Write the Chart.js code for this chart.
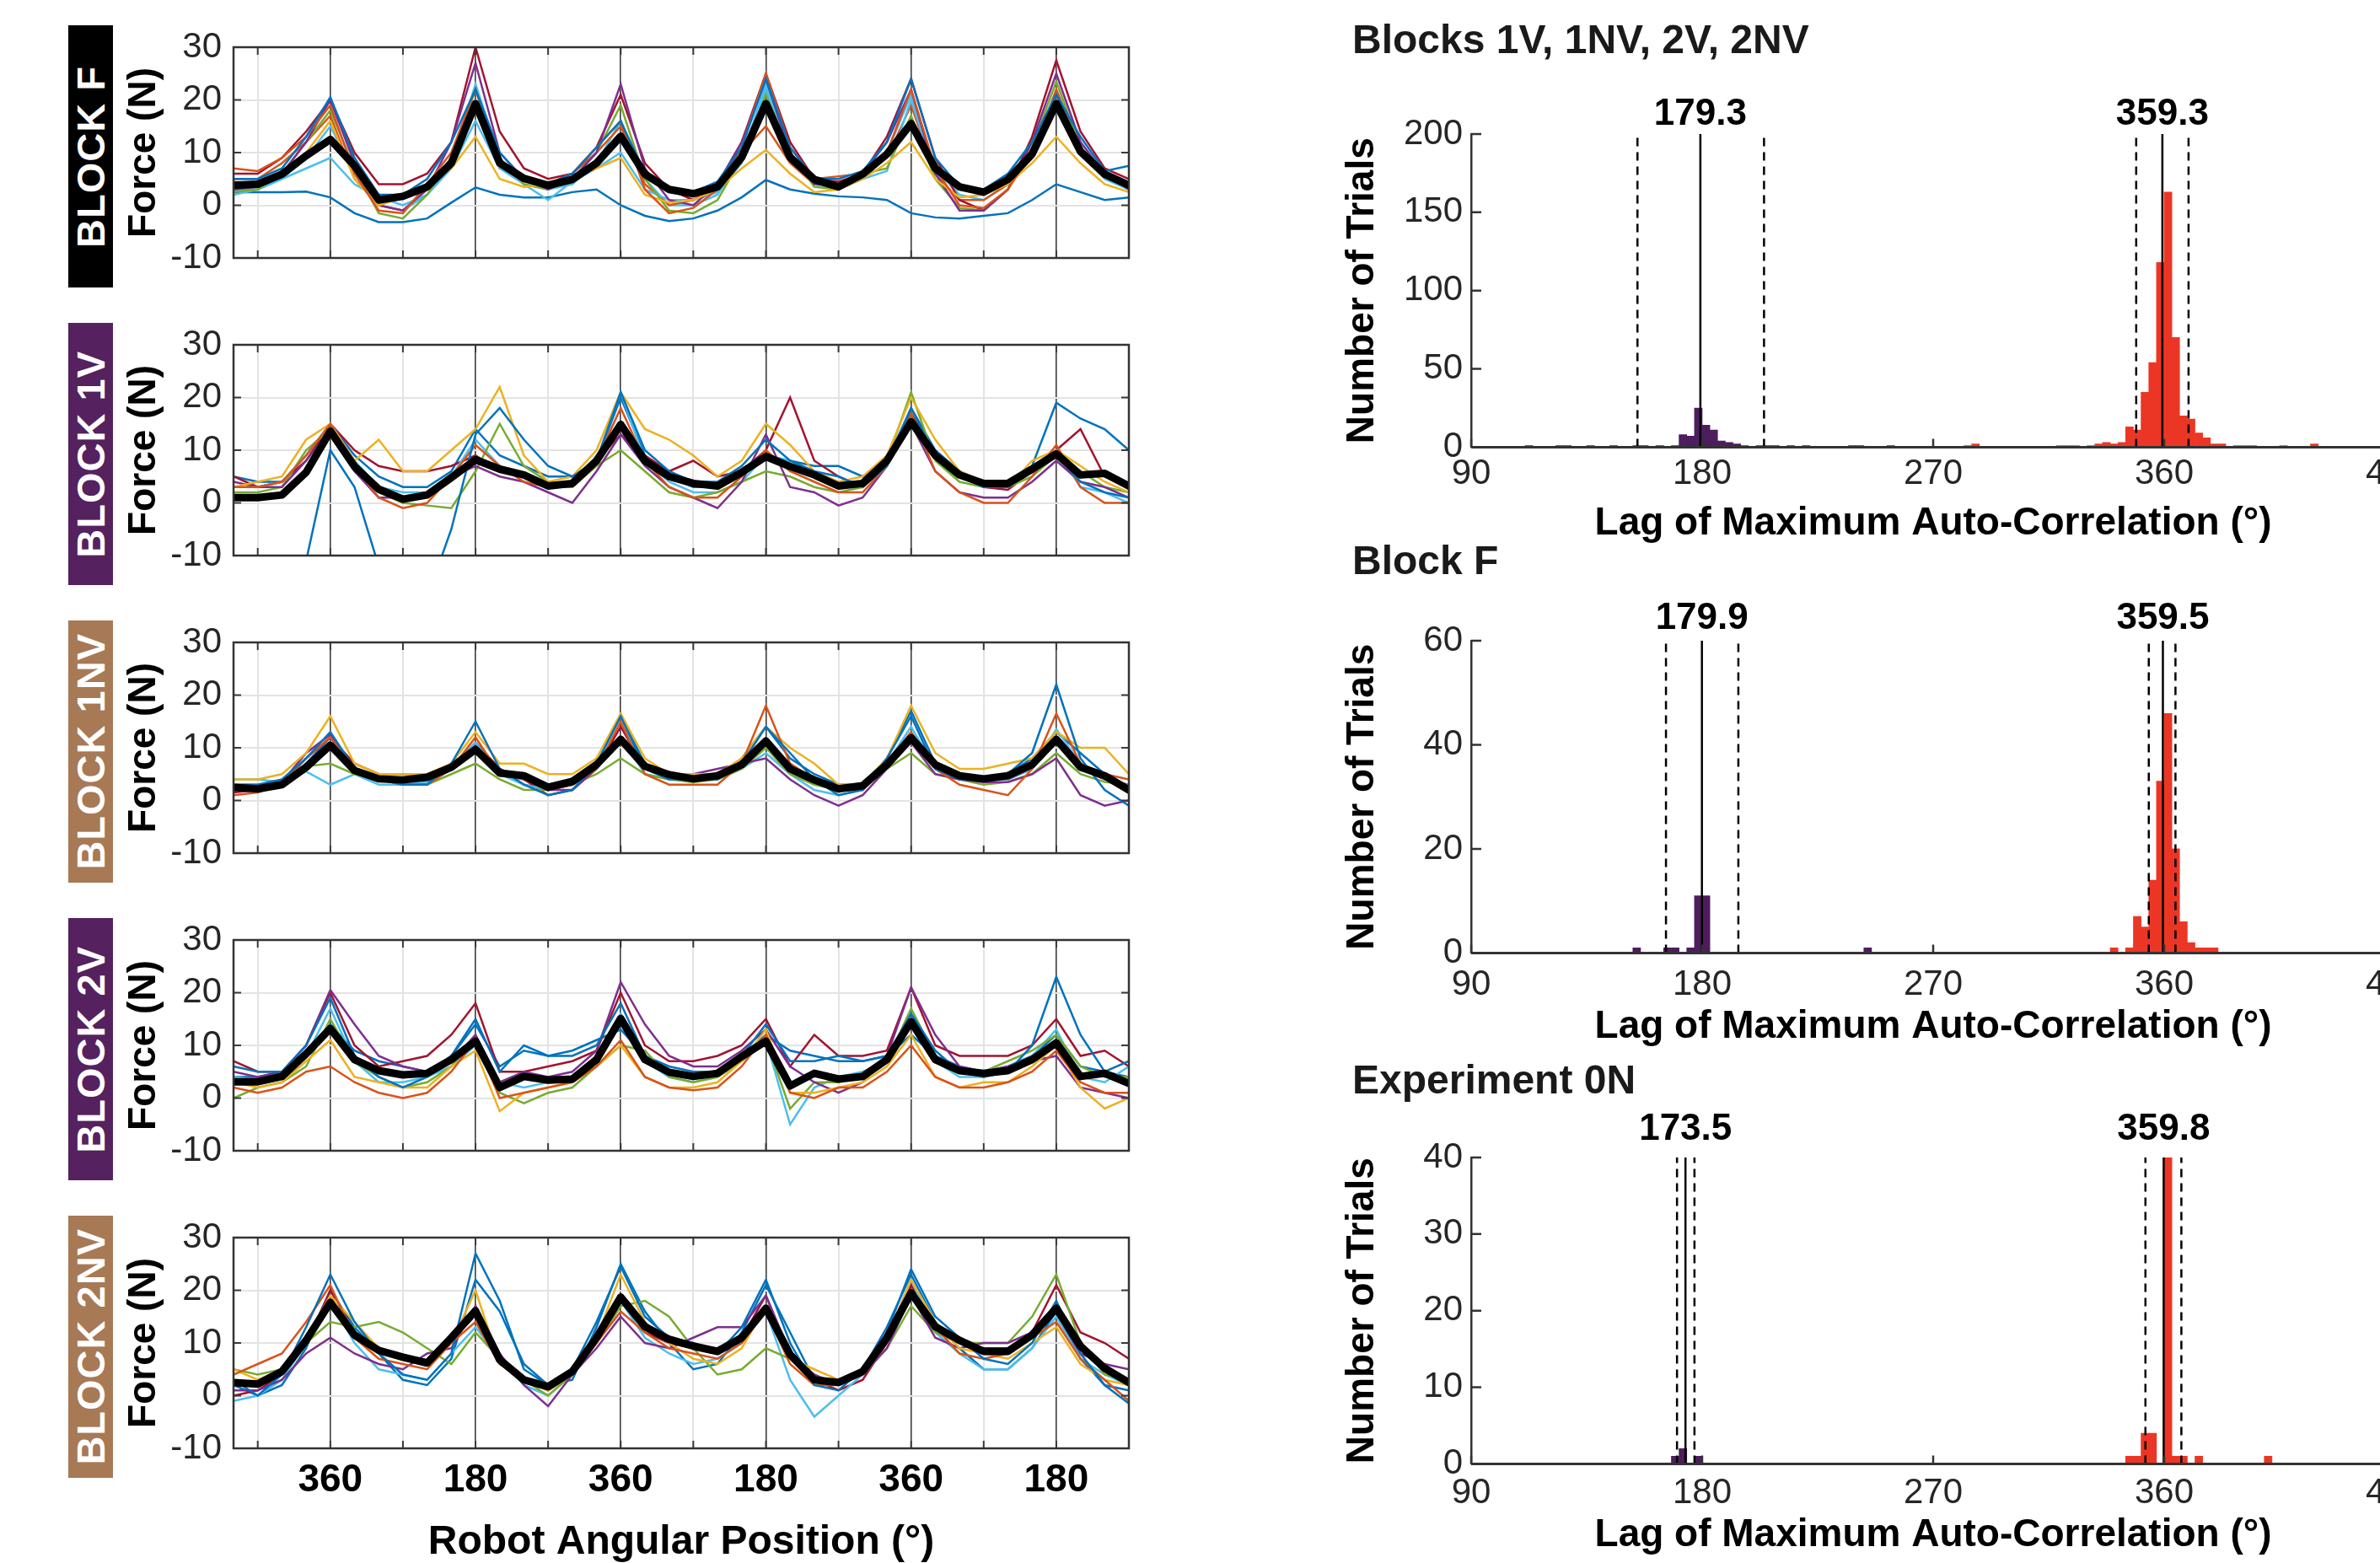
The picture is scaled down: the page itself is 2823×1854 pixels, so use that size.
<!DOCTYPE html>
<html><head><meta charset="utf-8">
<script src="https://cdn.jsdelivr.net/npm/chart.js"></script>
<style>
html,body{margin:0;padding:0;width:2823px;height:1854px;overflow:hidden;background:#fff;}
.blk{position:absolute;left:81px;width:53px;height:311px;display:flex;align-items:center;justify-content:center;}
.blk span{writing-mode:vertical-rl;transform:rotate(180deg);color:#fff;font:bold 47px 'Liberation Sans',Arial,sans-serif;white-space:nowrap;letter-spacing:1px;}
</style></head><body>
<script>
// ---------------- DATA ----------------
const angles = [60,90,120,150,180,210,240,270,300,330,360,390,420,450,480,510,540,570,600,630,660,690,720,750,780,810,840,870,900,930,960,990,1020,1050,1080,1110,1140,1170];
const xTickPositions = [90,180,270,360,450,540,630,720,810,900,990,1080,1170];
const xTickLabels = ['','360','','180','','360','','180','','360','','180',''];
const yTickStep = 10;

const blockLabels = ['BLOCK F','BLOCK 1V','BLOCK 1NV','BLOCK 2V','BLOCK 2NV'];

// Block F
const meanF = [3.8,4.0,5.9,9.4,12.5,7.5,1.0,1.7,3.5,8.0,19.3,8.0,5.1,3.8,4.9,8.0,13.1,5.9,3.0,2.2,3.5,9.1,19.3,9.1,4.9,3.5,5.9,9.7,15.5,7.0,3.5,2.5,4.9,9.7,19.3,10.2,5.9,3.8];
const F_blue    = [5,5,7,13,20.5,9,2,2,5,12,22,10,5,4,6,11,16,6,3,2.5,4.5,11,24,11,5,5,6.5,12,24,9,3.5,3,6,12,21,13,6.5,7.5];
const F_orange  = [7,6.5,9,13,19,6,-1,-1.5,4,10,22,8,5.5,4,6,11,16,3,-1.5,-0.5,3,11,25,11,5,5.5,6,10,22,7,0,-0.5,3,10,21,11,6,4];
const F_yellow  = [4.5,4,6.5,10,16,5,0,1.5,3.5,7,13,5,3.5,4,5,7,9,2,0.5,1,3,7,10.5,6,2.5,3,5,8,12,5,1.5,2,4,8,13,8,4,2.5];
const F_purple  = [3,3.5,6,12,20,8,0,-1,3,12,27,10,5,3,5,10,23,7,1,0,4,12,24,10,4,4,6,12,22,6,-1,-1,3,12,25,12,6,3];
const F_green   = [2.5,3,6,12,18,7,-1.5,-2.5,2,9,22,9,4,3,5,10,19,5,-1,-1.5,1,9,21,10,3.5,3,6,7,17,5,-0.5,-1,3,11,23.5,11,6,4];
const F_cyan    = [2,3,5,7,9,4,1.5,0,2,7,16,7,4,1,4.5,7,10,3,1,1,2.5,8,22,9,4,3.5,5,6.5,20,6,3,2,5,10,18,12,6,4];
const F_red     = [6,6,9,14,20,10,4,4,6,12,30,14,7,5,6,11,21,8,3,1,4,12,25,12,5,4.5,6,13,24,9,1,-1,3,13,27.5,14,7,5];
const F_blue2   = [2.5,2.5,2.5,2.6,1.5,-1.5,-3.2,-3.2,-2.5,0.5,3.4,2.0,1.5,1.5,2.5,3.0,0,-2.0,-3.0,-2.5,-1.0,1.5,4.8,3.0,2.2,1.7,1.5,1.0,-1.5,-2.3,-2.5,-2.0,-1.5,1.0,4.0,2.5,1.0,1.5];
const F_orange2 = [5,5,8,12,17,5,0,-1,3,9,19,7,5,4,6,10,15,4,0,1,3,10,15,8,4,4,6,9,19,6,1,1,4,9,22,10,6,4];
const F_cyan2   = [3,3,5,9,15,6,0,-1,2,8,23,9,4,3,4,8,16,5,0,0,2,9,23,9,4,3,5,10,21,7,2,1,4,10,22,11,5,3];

// Block 1V
const mean1V = [1.0,1.0,1.5,5.8,13.6,6.9,2.6,0.7,1.5,4.8,8.2,6.4,5.3,3.2,3.7,8.0,14.9,8.0,5.0,3.7,3.2,5.8,8.8,6.9,5.3,3.2,3.7,8.0,15.4,9.0,5.3,3.7,3.7,6.4,9.3,5.3,5.6,3.2];
const V1_blue   = [-15,-12,-13,-11,10,3,-12,-20,-18,-5,13,18,12,7,5,8,21,10,6,4,4,7,12,8,6,5,3,7,18,9,5,3,3,6,9,4,2,1];
const V1_orange = [3,3,4,9,15,7,1,-1,0,5,11,7,4,3,3,8,18,8,3,1,1,5,10,6,4,2,2,7,17,6,2,0,0,5,11,3,0,0];
const V1_yellow = [3,4,5,12,15,8,12,6,6,10,14,22,9,4,5,10,21,14,12,9,5,8,15,11,6,4,5,9,20,12,6,4,3,8,10,7,4,2];
const V1_purple = [4,3,3,8,14,6,1,1,2,5,7,5,4,2,0,6,13,7,3,1,-1,4,13,3,2,-0.5,1,7,15,6,2,1,1,4,8,4,3,1];
const V1_green  = [2,2,3,10,14,6,2,0,-0.5,-1,6,15,7,4,3,7,10,6,2,1,2,4,6,5,3,2,3,8,21,8,4,3,3,5,9,6,3,2];
const V1_cyan   = [3,3,4,9,15,8,3,2,2,5,12,7,5,3,3,8,21,8,4,2,2,4,9,8,5,4,4,8,16,9,5,4,3,7,10,3,2,0];
const V1_red    = [5,3,4,8,15,10,7,6,6,7,9,6,5,3,4,8,13,9,6,8,5,6,10,20,8,5,3,7,17,9,5,3,2.5,6,10,14,5,3];
const V1_blue2  = [5,4,4,9,15,9,5,3,3,6,14,9,7,5,5,8,20,9,5,3,3,6,9,8,7,7,5,8,18,10,6,4,4,7,19,16,14,10];

// Block 1NV
const mean1NV = [2.5,2.2,3.0,6.3,10.5,5.7,4.1,3.9,4.4,6.3,9.7,5.2,4.7,2.5,3.6,6.8,11.6,6.5,4.9,4.1,4.7,6.8,11.3,6.0,3.9,2.2,2.8,6.8,11.9,6.8,4.7,4.1,4.7,6.8,11.6,6.3,4.7,2.0];
const NV1_blue   = [3,3,4,8,13,6,4,3,3,7,15,6,3,1,2,7,16,6,4,4,4,7,14,9,4,1,2,8,16,6,4,4,5,9,22,8,2,-1];
const NV1_orange = [1,1.5,3,8,12,6,4,3,3,6,12,5,4,2,3,6,15,5,3,3,3,7,18,7,4,2,2,7,13,6,3,2,1,6,16.5,7,5,4];
const NV1_yellow = [4,4,5,9,16,7,5,5,5,7,13,7,7,5,5,8,16.5,8,5,5,5,8,14,10,7,3,3,8,18,9,6,6,7,8,13,10,10,5];
const NV1_purple = [2,2,3.5,9,12.5,6,4,4,4,6,10,5,4,2,2,6,12,6,5,5,6,7,8,4,1,-1,1,6,11,5,4,3.5,3.5,5,8,1,-1,0];
const NV1_green  = [3,3,3.5,6.5,7,5,4,3,3,5,7,4,2,2,3,5,8,5,4,3.5,4,6,10,5,3,2,3,6,9,5,4,3,3.5,5,9,5,3.5,3];
const NV1_cyan   = [4,4,3.5,5.5,3,5,3,3,3.5,6,11,5,3,2,3,6,12,5,4,4,4,6,9,5,2,1,2,7,14,6,4,4,4,6,13.5,7,4,2];
const NV1_red    = [1.5,2,3,8,12,7,5,5,5,6,11,6,4,1,2,6,14,6,5,5,5,7,11,7,4,2,2,7,12,6,4,4,4,6,12,6,4,3];
const NV1_blue2  = [2,2,3,7,12,6,4,3,3,6,11,6,3,2,3,7,16,7,4,4,4,8,14,8,5,3,3,8,17,7,5,4,5,8,13,9,5,2];

// Block 2V
const mean2V = [3.1,3.1,4.1,8.4,13.2,7.3,5.2,4.4,4.7,7.3,10.8,2.0,4.1,3.4,3.6,7.3,15.1,7.3,4.9,4.1,4.7,7.9,10.8,2.3,4.7,3.6,4.1,7.3,14.5,7.3,5.2,4.7,5.2,7.3,10.5,4.1,4.7,2.8];
const V2_blue   = [6,5,5,10,19,8,4,2,4,8,15,5,10,8,8,10,18,8,5,4,5,8,14,7,7,8,7,8,16,9,5,4,5,10,23,12,5,7];
const V2_orange = [2,1,2,5,6,3,1,0,1,5,11,0,1,2,3,6,11,4,2,1.5,2,6,12,1,0,2,2,5,10,4,2,2,3,5,9,3,1,1];
const V2_yellow = [3,2,3,7,11,4,3,2,2,6,9,-2.5,1,2,3,6,10,4,2,2,3,7,13,1,1,2,3,6,12,4,2,3,3,6,10,2,-2,0];
const V2_purple = [5,4,5,10,20.5,14,8,6,5,7,12,3,5,4,5,9,22,14,8,6,6,9,13,6,3,1,3,8,21,12,6,5,6,7,8,2,1,0];
const V2_green  = [0,2,3,6,15,7,4,2,3,6,12,1,-1,1,2,6,10,9,4,3,4,7,11,-2,3,3,4,7,17,8,5,5,7,9,12,6,4,4];
const V2_cyan   = [4,3.5,4,8,17,7,3,3,4,6,10,3,2,3,4,7,16,7,4,3,4,7,11,-5,2,4,5,7,15,7,4,4,5,8,13,4,3,6];
const V2_red    = [7,5,5,10,20,10,6,7,8,12,18,5,5,6,7,9,20,10,7,7,8,10,15,6,12,8,8,9,21,10,8,8,8,10,15,8,9,6];
const V2_blue2  = [4,4,5,9,14,9,7,6,5,8,14,6,9,8,9,11,13,8,6,5,5,8,12,9,8,7,7,8,12,8,6,5,6,8,12,6,5,4];

// Block 2NV
const mean2NV = [2.5,2.2,4.6,10.5,17.7,11.5,8.6,7.3,6.2,11.0,16.1,6.8,3.0,1.7,4.6,11.0,18.7,13.1,10.7,9.4,8.4,11.0,16.6,7.8,3.0,2.5,4.6,11.0,19.5,13.1,10.5,8.4,8.4,11.5,16.6,9.4,5.2,2.5];
const NV2_blue   = [3,0,4,13,23,14,8,4,3,8,27,18,5,2,5,14,24.5,15,11,10,8,13,22,10,2,1,5,12,24,15,11,7,6,10,18,8,2,-1.5];
const NV2_orange = [4,6,8,14,21,11,7,6,5,10,14,6,3,2,4,10,16,12,9,8,7,10,16,6,2,2,4,11,20,13,8,7,8,11,14,7,3,-1];
const NV2_yellow = [5,3,5,11,19,14,9,7,6,10,20,6,3,1,4,11,23,14,10,7,6,9,17,7,5,3,5,11,22,14,9,8,7,10,13,6,3,2];
const NV2_purple = [1,1,3,8,11,8,6,5,8,9,17,8,2,-2,4,9,15,10,9,11,13,13,19,8,4,2,4,9,19,11,9,10,10,12,16,8,6,5];
const NV2_green  = [5,4,5,10,14,13,14,12,9,6,12,7,3,0,4,10,17,18,15,9,4,5,9,7,3,3,4,9,17,12,10,10,10,15,23,10,4,3];
const NV2_cyan   = [-1,0,3,10,18,10,5,4,3,8,13,7,2,0,4,10,18,11,8,6,7,10,16,3,-4,0,4,11,22,12,8,5,5,9,15,7,4,2];
const NV2_red    = [0,1,4,10,20,12,9,7,6,10,17,7,3,1,4,10,19,12,10,9,9,11,19,8,3,1,3,10,21,13,10,9,9,12,21,12,10,7];
const NV2_blue2  = [2,0,2,9,20,13,8,3,2,7,22,16,6,2,3,13,25,16,10,5,6,12,21,12,3,2,5,13,23,14,9,5,5,9,16,7,2,1];

// Histograms (bin start, 3-degree bins)
const binWidth = 3;
const histTickPositions = [90,180,270,360,450];
const h1PurpleBins   = [111,123,126,135,144,153,156,162,168,171,174,177,180,183,186,189,192,195,201,204,207,213,219,237,240,252];
const h1PurpleCounts = [1,1,1,1,1,1,1,1,1,8,7,25,14,11,4,3,2,1,1,1,1,1,1,1,1,1];
const h1RedBins   = [282,285,318,321,324,330,333,336,339,342,345,348,351,354,357,360,363,366,369,372,375,378,381,387,390,393,405,417];
const h1RedCounts = [1,2,1,1,1,1,2,3,2,3,13,11,35,54,118,163,70,20,18,9,6,2,2,1,1,1,1,2];
const h1Means = [179.3, 359.3];
const h1Lower = [154.8, 349.1];
const h1Upper = [204.1, 369.5];

const h2PurpleBins   = [153,165,168,174,177,180,243];
const h2PurpleCounts = [1,1,1,1,11,11,1];
const h2RedBins   = [339,345,348,351,354,357,360,363,366,369,372,375,378];
const h2RedCounts = [1,1,7,5,14,33,46,20,6,2,1,1,1];
const h2Means = [179.9, 359.5];
const h2Lower = [165.9, 354.0];
const h2Upper = [194.1, 364.4];

const h3PurpleBins   = [168,171,177];
const h3PurpleCounts = [1,2,1];
const h3RedBins   = [345,348,351,354,360,363,366,372,399];
const h3RedCounts = [1,1,4,4,40,1,1,1,1];
const h3Means = [173.5, 359.8];
const h3Lower = [170.2, 352.7];
const h3Upper = [177.0, 366.7];

// ---------------- RENDER ----------------
Chart.defaults.font.family = "'Liberation Sans', Arial, Helvetica, sans-serif";
Chart.defaults.color = '#262626';
Chart.defaults.animation = false;

const C = {blue:'#0072BD', orange:'#D95319', yellow:'#EDB120', purple:'#7E2F8E', green:'#77AC30', cyan:'#4DBEEE', red:'#A2142F'};
const BAR_PURPLE = '#4e1d5e', BAR_RED = '#ec3625';
const darkSet = new Set(xTickPositions.filter((v, i) => xTickLabels[i] !== ''));

function makeCanvas(left, top, w, h) {
  const c = document.createElement('canvas');
  c.width = w; c.height = h;
  c.style.cssText = `position:absolute;left:${left}px;top:${top}px;width:${w}px;height:${h}px;`;
  document.body.appendChild(c);
  return c.getContext('2d');
}

function noPadX(h) { return ax => { ax.height = h; ax.paddingLeft = 0; ax.paddingRight = 0; }; }
function noPadY(w) { return ax => { ax.width = w; ax.paddingTop = 0; ax.paddingBottom = 0; }; }

function framePlugin() {
  return { id: 'frame', afterDatasetsDraw(chart) {
    const {ctx, chartArea: a, scales: {x, y}} = chart;
    ctx.save();
    ctx.strokeStyle = '#3a3a3a'; ctx.lineWidth = 2;
    ctx.beginPath();
    x.ticks.forEach(t => { const px = x.getPixelForValue(t.value);
      ctx.moveTo(px, a.bottom); ctx.lineTo(px, a.bottom - 9); ctx.moveTo(px, a.top); ctx.lineTo(px, a.top + 9); });
    y.ticks.forEach(t => { const py = y.getPixelForValue(t.value);
      ctx.moveTo(a.left, py); ctx.lineTo(a.left + 9, py); ctx.moveTo(a.right, py); ctx.lineTo(a.right - 9, py); });
    ctx.stroke();
    ctx.lineWidth = 2.5; ctx.strokeStyle = '#333';
    ctx.strokeRect(a.left, a.top, a.right - a.left, a.bottom - a.top);
    ctx.restore();
  }};
}

function forcePanel(idx, traces, colors, mean, labelColor) {
  const top = 56 + 353 * idx;
  const last = idx === 4;
  const padTop = 30;
  const axisH = last ? 141 : 30;
  const ctx = makeCanvas(140, top - padTop, 1210, padTop + 250 + axisH);
  const pts = vals => vals.map((v, j) => ({x: angles[j], y: v}));
  const datasets = traces.map((vals, i) => ({
    data: pts(vals), borderColor: colors[i], borderWidth: 2.5, pointRadius: 0, tension: 0, clip: 0, order: 1
  }));
  datasets.push({data: pts(mean), borderColor: '#000', borderWidth: 9, pointRadius: 0, tension: 0, clip: 0, order: 0,
                 borderJoinStyle: 'round', borderCapStyle: 'round'});
  new Chart(ctx, {
    type: 'line',
    data: {datasets},
    options: {
      responsive: false, animation: false, events: [],
      layout: {padding: {top: padTop, right: 11, bottom: 0, left: 0}, autoPadding: false},
      plugins: {legend: {display: false}, tooltip: {enabled: false}},
      scales: {
        x: {
          type: 'linear', min: 60, max: 1170,
          afterBuildTicks: ax => { ax.ticks = xTickPositions.map(v => ({value: v})); },
          afterFit: noPadX(axisH),
          grid: {drawTicks: false,
                 color: c => (c.tick && darkSet.has(c.tick.value)) ? '#3d3d3d' : '#e3e3e3',
                 lineWidth: c => (c.tick && darkSet.has(c.tick.value)) ? 1.6 : 2},
          border: {display: false},
          ticks: {display: last, padding: 11, color: '#000', font: {size: 46, weight: 'bold'},
                  maxRotation: 0, autoSkip: false,
                  callback: v => { const i = xTickPositions.indexOf(v); return i >= 0 ? xTickLabels[i] : ''; }},
          title: {display: last, text: 'Robot Angular Position (°)', color: '#000',
                  font: {size: 48, weight: 'bold'}, padding: {top: 0, bottom: 0}}
        },
        y: {
          min: -10, max: 30,
          afterFit: noPadY(137),
          ticks: {stepSize: yTickStep, padding: 14, font: {size: 42}, color: '#262626'},
          grid: {drawTicks: false, color: '#e3e3e3', lineWidth: 2},
          border: {display: false},
          title: {display: true, text: 'Force (N)', color: '#000', font: {size: 46, weight: 'bold'},
                  padding: {top: 4, bottom: 0}}
        }
      }
    },
    plugins: [framePlugin()]
  });
  const d = document.createElement('div');
  d.className = 'blk';
  d.style.top = (top - 26) + 'px';
  d.style.background = labelColor;
  const s = document.createElement('span');
  s.textContent = blockLabels[idx];
  d.appendChild(s);
  document.body.appendChild(d);
}

const P = '#55215f', T = '#a77955';
forcePanel(0, [F_blue,F_orange,F_yellow,F_purple,F_green,F_cyan,F_red,F_blue2,F_orange2,F_cyan2],
  [C.blue,C.orange,C.yellow,C.purple,C.green,C.cyan,C.red,C.blue,C.orange,C.cyan], meanF, '#000');
forcePanel(1, [V1_blue,V1_orange,V1_yellow,V1_purple,V1_green,V1_cyan,V1_red,V1_blue2],
  [C.blue,C.orange,C.yellow,C.purple,C.green,C.cyan,C.red,C.blue], mean1V, P);
forcePanel(2, [NV1_blue,NV1_orange,NV1_yellow,NV1_purple,NV1_green,NV1_cyan,NV1_red,NV1_blue2],
  [C.blue,C.orange,C.yellow,C.purple,C.green,C.cyan,C.red,C.blue], mean1NV, T);
forcePanel(3, [V2_blue,V2_orange,V2_yellow,V2_purple,V2_green,V2_cyan,V2_red,V2_blue2],
  [C.blue,C.orange,C.yellow,C.purple,C.green,C.cyan,C.red,C.blue], mean2V, P);
forcePanel(4, [NV2_blue,NV2_orange,NV2_yellow,NV2_purple,NV2_green,NV2_cyan,NV2_red,NV2_blue2],
  [C.blue,C.orange,C.yellow,C.purple,C.green,C.cyan,C.red,C.blue], mean2NV, T);

function histPlugin(means, gap) {
  return { id: 'histDeco', afterDatasetsDraw(chart) {
    const {ctx, chartArea: a, scales: {x, y}} = chart;
    ctx.save();
    ctx.strokeStyle = '#333'; ctx.lineWidth = 3;
    ctx.beginPath(); ctx.moveTo(a.left, a.bottom); ctx.lineTo(a.right, a.bottom); ctx.stroke();
    ctx.lineWidth = 2.5; ctx.beginPath();
    y.ticks.forEach(t => { const py = y.getPixelForValue(t.value); ctx.moveTo(a.left, py); ctx.lineTo(a.left + 12, py); });
    x.ticks.forEach(t => { const px = x.getPixelForValue(t.value); ctx.moveTo(px, a.bottom); ctx.lineTo(px, a.bottom - 10); });
    ctx.stroke();
    ctx.font = "bold 44px 'Liberation Sans', Arial, sans-serif";
    ctx.fillStyle = '#000'; ctx.textAlign = 'center'; ctx.textBaseline = 'alphabetic';
    means.forEach(m => ctx.fillText(m.toFixed(1), x.getPixelForValue(m), a.top - gap));
    ctx.restore();
  }};
}

function histPanel(h) {
  const ctx = makeCanvas(1590, h.canvasTop, 1261, h.canvasH);
  const barData = [], barColors = [];
  h.pBins.forEach((b, i) => { barData.push({x: b + binWidth / 2, y: h.pCounts[i]}); barColors.push(BAR_PURPLE); });
  h.rBins.forEach((b, i) => { barData.push({x: b + binWidth / 2, y: h.rCounts[i]}); barColors.push(BAR_RED); });
  const datasets = [{type: 'bar', data: barData, backgroundColor: barColors, borderWidth: 0,
                     barPercentage: 1, categoryPercentage: 1, order: 2}];
  const vline = (v, dash) => ({type: 'line', data: [{x: v, y: 0}, {x: v, y: h.yMax}], borderColor: '#000',
                  borderWidth: 2.5, borderDash: dash, pointRadius: 0, clip: 0, order: 0});
  h.means.forEach(v => datasets.push(vline(v, [])));
  h.lower.forEach(v => datasets.push(vline(v, [10, 7])));
  h.upper.forEach(v => datasets.push(vline(v, [10, 7])));
  new Chart(ctx, {
    type: 'bar',
    data: {datasets},
    options: {
      responsive: false, animation: false, events: [],
      layout: {padding: {left: 14, right: 10, top: 0, bottom: 0}, autoPadding: false},
      plugins: {
        legend: {display: false}, tooltip: {enabled: false},
        title: {display: true, text: h.title, align: 'start', color: '#1a1a1a',
                font: {size: 48, weight: 'bold'}, padding: {top: h.tTop, bottom: h.tBottom}}
      },
      scales: {
        x: {
          type: 'linear', min: 90, max: 450, offset: false,
          afterBuildTicks: ax => { ax.ticks = histTickPositions.map(v => ({value: v})); },
          afterFit: noPadX(h.axisH),
          grid: {display: false, drawTicks: false},
          border: {display: false},
          ticks: {padding: h.tickPad, font: {size: 42}, color: '#262626', maxRotation: 0, autoSkip: false},
          title: {display: true, text: 'Lag of Maximum Auto-Correlation (°)', color: '#000',
                  font: {size: 46, weight: 'bold'}, padding: {top: 0, bottom: 0}}
        },
        y: {
          min: 0, max: h.yMax,
          afterFit: noPadY(141),
          ticks: {stepSize: h.yStep, padding: 10, font: {size: 42}, color: '#262626'},
          grid: {display: false, drawTicks: false},
          border: {display: true, color: '#333', width: 2.5},
          title: {display: true, text: 'Number of Trials', color: '#000',
                  font: {size: 46, weight: 'bold'}, padding: {top: -15.6, bottom: 0}}
        }
      }
    },
    plugins: [histPlugin(h.means, h.gap)]
  });
}

histPanel({title: 'Blocks 1V, 1NV, 2V, 2NV', canvasTop: 0, canvasH: 649, tTop: 21.2, tBottom: 80.2,
  axisH: 118.6, tickPad: 6.8, yMax: 200, yStep: 50, gap: 11,
  pBins: h1PurpleBins, pCounts: h1PurpleCounts, rBins: h1RedBins, rCounts: h1RedCounts,
  means: h1Means, lower: h1Lower, upper: h1Upper});
histPanel({title: 'Block F', canvasTop: 620, canvasH: 626, tTop: 19.2, tBottom: 63.2,
  axisH: 115.6, tickPad: 12.8, yMax: 60, yStep: 20, gap: 14,
  pBins: h2PurpleBins, pCounts: h2PurpleCounts, rBins: h2RedBins, rCounts: h2RedCounts,
  means: h2Means, lower: h2Lower, upper: h2Upper});
histPanel({title: 'Experiment 0N', canvasTop: 1236, canvasH: 613, tTop: 19.2, tBottom: 60.2,
  axisH: 112.6, tickPad: 9.8, yMax: 40, yStep: 10, gap: 21,
  pBins: h3PurpleBins, pCounts: h3PurpleCounts, rBins: h3RedBins, rCounts: h3RedCounts,
  means: h3Means, lower: h3Lower, upper: h3Upper});
</script>
</body></html>
